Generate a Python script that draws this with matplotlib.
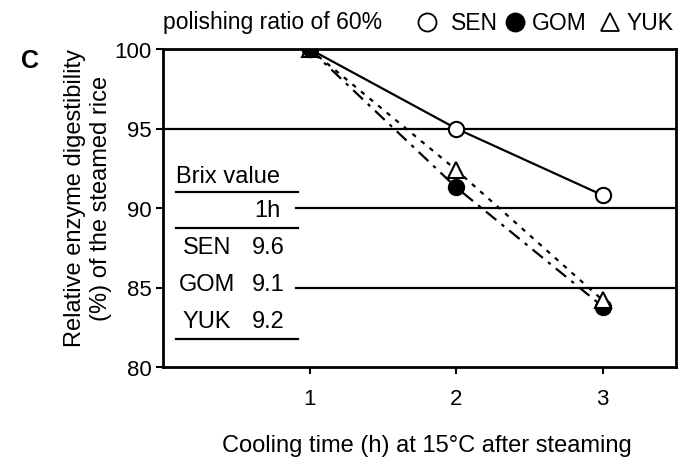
import matplotlib.pyplot as plt
from matplotlib.lines import Line2D

plt.rcParams['font.family'] = ['Liberation Sans', 'DejaVu Sans']

# cooling time (h) and relative digestibility (%)
hours = [1, 2, 3]
sen = [100, 95.0, 90.8]
gom = [100, 91.3, 83.8]
yuk = [100, 92.4, 84.2]

# Brix value table
brix_rows = ['SEN', 'GOM', 'YUK']
brix_1h = ['9.6', '9.1', '9.2']

fig = plt.figure(figsize=(6.8, 4.6), dpi=100)
ax = fig.add_axes([163 / 680, 1 - 368 / 460, (676 - 163) / 680, (368 - 50) / 460])

ax.set_xlim(0, 3.5)
ax.set_ylim(80, 100)

# horizontal reference lines (85 and 90 stop at the table)
ax.axhline(95, color='black', lw=1.6, zorder=1)
for y in (90, 85):
    ax.plot([0.91, 3.5], [y, y], color='black', lw=1.6, zorder=1)

ms = 11
ax.plot(hours, sen, color='black', lw=1.6, ls='-', marker='o', ms=ms,
        mfc='white', mec='black', mew=1.5, zorder=3)
ax.plot(hours, gom, color='black', lw=1.6, ls=(0, (6, 3, 1.5, 3)), marker='o',
        ms=ms, mfc='black', mec='black', mew=1.5, zorder=3)
ax.plot(hours, yuk, color='black', lw=1.6, ls=(0, (2, 3)), marker='^', ms=ms,
        mfc='white', mec='black', mew=1.5, zorder=4)
ax.plot(hours[:1], gom[:1], ls='none', marker='o', ms=ms, mfc='black',
        mec='black', zorder=5)

ax.set_xticks(hours)
ax.set_yticks([80, 85, 90, 95, 100])
ax.tick_params(direction='out', length=5, width=1.5, labelsize=16, pad=3)
ax.tick_params(axis='x', pad=10)
for s in ax.spines.values():
    s.set_linewidth(2)


def fx(px):
    return px / 680


def fy(py):
    return 1 - py / 460


fig.text(fx(427), fy(446), 'Cooling time (h) at 15°C after steaming', fontsize=17,
         ha='center', va='center')
fig.text(fx(88), fy(198), 'Relative enzyme digestibility\n(%) of the steamed rice',
         fontsize=17, rotation=90, ha='center', va='center', linespacing=1.2)

fig.text(fx(30), fy(61), 'C', fontsize=18, fontweight='bold',
         ha='center', va='center')
fig.text(fx(163), fy(23), 'polishing ratio of 60%', fontsize=16.5,
         ha='left', va='center')

# legend: symbol then series name
legend_items = [('SEN', 'o', 'white', 427, 451),
                ('GOM', 'o', 'black', 515, 532),
                ('YUK', '^', 'white', 610, 627)]
for name, mk, fc, mx, tx in legend_items:
    fig.add_artist(Line2D([fx(mx)], [fy(23)], marker=mk, ms=13, mfc=fc,
                          mec='black', mew=1.3, ls='none'))
    fig.text(fx(tx), fy(23), name, fontsize=16.5, ha='left', va='center')

# Brix table
fig.text(fx(176), fy(177), 'Brix value', fontsize=17, ha='left', va='center')
fig.text(fx(280), fy(211), '1h', fontsize=17, ha='right', va='center')
for py in (193, 229, 340):
    fig.add_artist(Line2D([fx(176), fx(298)], [fy(py), fy(py)],
                          color='black', lw=1.6))
for i, (name, val) in enumerate(zip(brix_rows, brix_1h)):
    py = 248 + i * 37
    fig.text(fx(207), fy(py), name, fontsize=17, ha='center', va='center')
    fig.text(fx(268), fy(py), val, fontsize=17, ha='center', va='center')

fig.savefig('out.png', dpi=100)
